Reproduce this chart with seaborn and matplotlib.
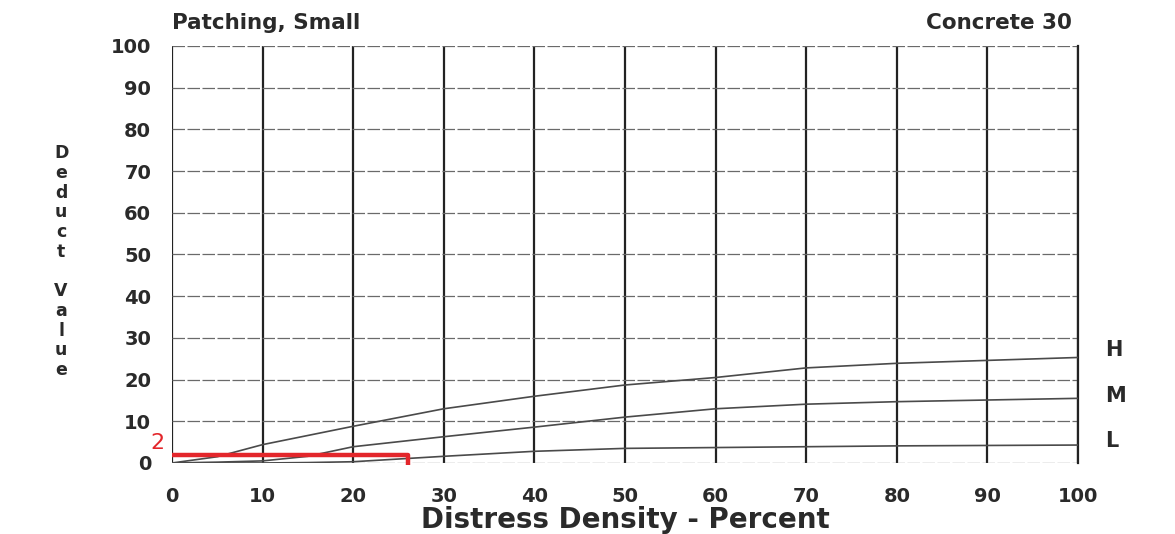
import matplotlib
matplotlib.use("Agg")
import matplotlib.pyplot as plt
import seaborn as sns
import pandas as pd

# Deduct curves for small patching on concrete, by severity
density = [0, 5, 10, 15, 20, 30, 40, 50, 60, 70, 80, 90, 100]
deduct_h = [0, 1.5, 4.4, 6.6, 8.8, 13.0, 16.0, 18.7, 20.5, 22.8, 23.9, 24.6, 25.3]
deduct_m = [0, 0.2, 0.5, 1.6, 3.9, 6.3, 8.6, 11.0, 13.0, 14.1, 14.7, 15.1, 15.5]
deduct_l = [0, 0, 0, 0.1, 0.3, 1.6, 2.8, 3.5, 3.7, 3.9, 4.1, 4.2, 4.3]
severity_labels = ["H", "M", "L"]

x_ticks = [0, 10, 20, 30, 40, 50, 60, 70, 80, 90, 100]
y_ticks = [0, 10, 20, 30, 40, 50, 60, 70, 80, 90, 100]

# Worked reading: density 26 % gives a deduct value of 2
reading_density = 26
reading_deduct = 2

sns.set_theme(style="white")
plt.rcParams["font.family"] = ["DejaVu Sans"]

frames = []
for label, values in zip(severity_labels, [deduct_h, deduct_m, deduct_l]):
    frames.append(pd.DataFrame({"density": density, "deduct": values, "severity": label}))
df = pd.concat(frames, ignore_index=True)

fig = plt.figure(figsize=(11.75, 5.34), dpi=100)
ax = fig.add_axes([0.1464, 0.133, 0.7710, 0.7809])

ink = "#2a2a2a"

# grid: heavy verticals, light horizontals
for xv in x_ticks:
    ax.axvline(xv, color="#222222", lw=1.6, zorder=1)
for yv in y_ticks:
    ax.axhline(yv, color="#6a6a6a", lw=0.9, ls=(0, (10, 2)), zorder=1)

sns.lineplot(data=df, x="density", y="deduct", hue="severity",
             palette={"H": "#4a4a4a", "M": "#4a4a4a", "L": "#4a4a4a"},
             lw=1.2, legend=False, ax=ax, zorder=3)

ax.set_xlim(0, 100)
ax.set_ylim(0, 100)
ax.set_xticks(x_ticks)
ax.set_yticks(y_ticks)
ax.tick_params(axis="x", direction="out", length=7, width=1.6, color="#222222",
               pad=10, labelsize=14)
ax.tick_params(axis="y", direction="out", length=9, width=0.9, color="#6a6a6a",
               pad=6, labelsize=14)
for lab in ax.get_xticklabels() + ax.get_yticklabels():
    lab.set_fontweight("bold")
    lab.set_color(ink)

for side in ["top", "bottom", "left"]:
    ax.spines[side].set_visible(False)
ax.spines["right"].set_color("#222222")
ax.spines["right"].set_linewidth(1.6)

ax.set_xlabel("")
ax.set_ylabel("")
fig.text(0.532, 0.026, "Distress Density - Percent", ha="center", va="center",
         fontsize=20, fontweight="bold", color=ink)

ylabel = "\n".join(list("Deduct Value"))
fig.text(0.052, 0.51, ylabel, ha="center", va="center", fontsize=12.5,
         fontweight="bold", color=ink, linespacing=1.12)

ax.text(0, 1.03, "Patching, Small", transform=ax.transAxes, ha="left",
        va="bottom", fontsize=15.5, fontweight="bold", color=ink)
ax.text(0.993, 1.03, "Concrete 30", transform=ax.transAxes, ha="right",
        va="bottom", fontsize=15.5, fontweight="bold", color=ink)

# severity labels at the right end of each curve
for label, values, dy in zip(severity_labels, [deduct_h, deduct_m, deduct_l], [1.8, 0.5, 1.0]):
    ax.text(103, values[-1] + dy, label, ha="left", va="center", fontsize=15,
            fontweight="bold", color=ink, clip_on=False)

# red reading line
ax.plot([0, reading_density, reading_density], [reading_deduct, reading_deduct, -0.6],
        color="#e3262b", lw=3.2, solid_capstyle="butt", clip_on=False, zorder=5)
ax.text(-0.8, reading_deduct + 0.5, str(reading_deduct), ha="right", va="bottom",
        fontsize=16, color="#e3262b", clip_on=False, zorder=5)

fig.savefig("out.png", dpi=100, facecolor="white")
